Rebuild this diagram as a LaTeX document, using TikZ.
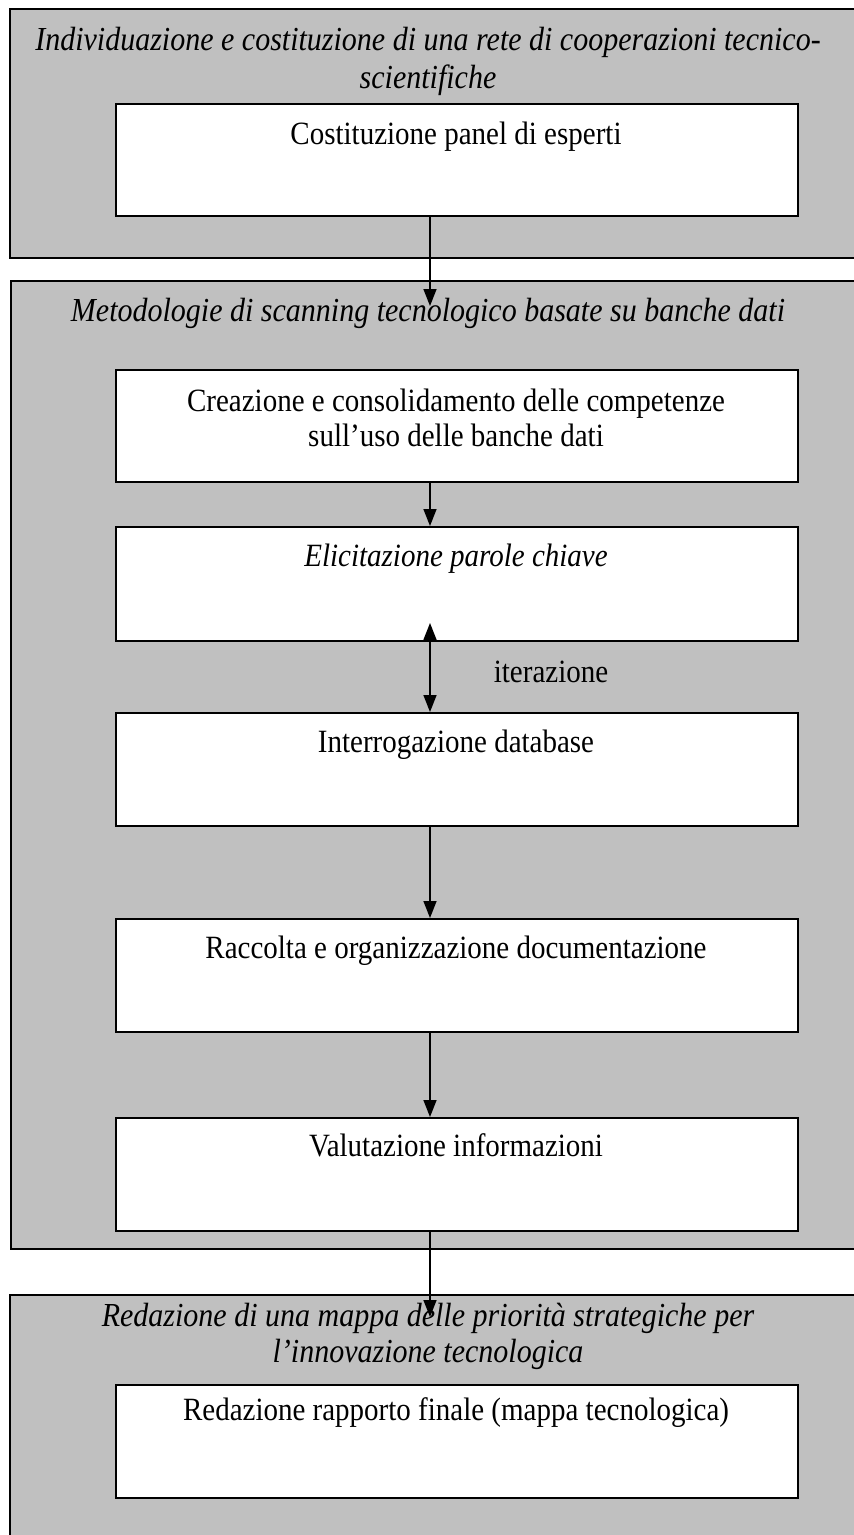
\documentclass[tikz,border=0pt]{standalone}
\usepackage{fontspec}
\setmainfont{Liberation Serif}
\usetikzlibrary{arrows.meta}
\definecolor{panelgray}{HTML}{C0C0C0}
\newcommand{\tallt}[1]{\scalebox{1}[1.12]{#1}}
\begin{document}
\begin{tikzpicture}[x=1pt,y=-1pt,
  panel/.style={draw=black,fill=panelgray,line width=2pt,inner sep=0pt,anchor=north west,minimum width=860pt},
  stepbox/.style={draw=black,fill=white,line width=2pt,inner sep=0pt,anchor=north west,minimum width=682pt,minimum height=112pt},
  txt/.style={inner sep=0pt,anchor=base,font=\fontsize{29}{35}\selectfont},
  ttl/.style={txt,font=\fontsize{30}{37}\selectfont\itshape},
  conn/.style={line width=1.5pt,-{Triangle[length=17pt,width=13pt]}},
  dconn/.style={line width=1.5pt,{Triangle[length=17pt,width=13pt]}-{Triangle[length=17pt,width=13pt]}}
]
\useasboundingbox (0,0) rectangle (854,1535);
\fill[white] (0,0) rectangle (854,1535);
% panels
\node[panel,minimum height=249pt] (p1) at (9,8) {};
\node[panel,minimum height=968pt] (p2) at (10,280) {};
\node[panel,minimum height=300pt] (p3) at (9,1294) {};
% titles
\node[ttl] (t1a) at (428,50) {\tallt{Individuazione e costituzione di una rete di cooperazioni tecnico-}};
\node[ttl] (t1b) at (428,88) {\tallt{scientifiche}};
\node[ttl] (t2) at (428,321) {\tallt{Metodologie di scanning tecnologico basate su banche dati}};
\node[ttl] (t3a) at (428,1326) {\tallt{Redazione di una mappa delle priorità strategiche per}};
\node[ttl] (t3b) at (428,1362) {\tallt{l’innovazione tecnologica}};
% inner boxes
\node[stepbox] (b1) at (115,103) {};
\node[stepbox] (b2) at (115,369) {};
\node[stepbox,minimum height=114pt] (b3) at (115,526) {};
\node[stepbox,minimum height=113pt] (b4) at (115,712) {};
\node[stepbox,minimum height=113pt] (b5) at (115,918) {};
\node[stepbox,minimum height=113pt] (b6) at (115,1117) {};
\node[stepbox,minimum height=113pt] (b7) at (115,1384) {};
% inner texts
\node[txt] (l1) at (456,144) {\tallt{Costituzione panel di esperti}};
\node[txt] (l2a) at (456,411) {\tallt{Creazione e consolidamento delle competenze}};
\node[txt] (l2b) at (456,446) {\tallt{sull’uso delle banche dati}};
\node[txt,font=\fontsize{29}{35}\selectfont\itshape] (l3) at (456,566) {\tallt{Elicitazione parole chiave}};
\node[txt] (l4) at (456,752) {\tallt{Interrogazione database}};
\node[txt] (l5) at (456,958) {\tallt{Raccolta e organizzazione documentazione}};
\node[txt] (l6) at (456,1156) {\tallt{Valutazione informazioni}};
\node[txt] (l7) at (456,1420) {\tallt{Redazione rapporto finale (mappa tecnologica)}};
\node[txt] (it) at (551,682) {\tallt{iterazione}};
% connector ends
\coordinate (e1) at (430,306);
\coordinate (e3) at (430,623);
\coordinate (e6) at (430,1317);
% connectors
\draw[conn] (b1.south -| e1) -- (e1);
\draw[conn] (b2.south -| e1) -- (b3.north -| e1);
\draw[dconn] (e3) -- (b4.north -| e3);
\draw[conn] (b4.south -| e1) -- (b5.north -| e1);
\draw[conn] (b5.south -| e1) -- (b6.north -| e1);
\draw[conn] (b6.south -| e6) -- (e6);
\end{tikzpicture}
\end{document}
